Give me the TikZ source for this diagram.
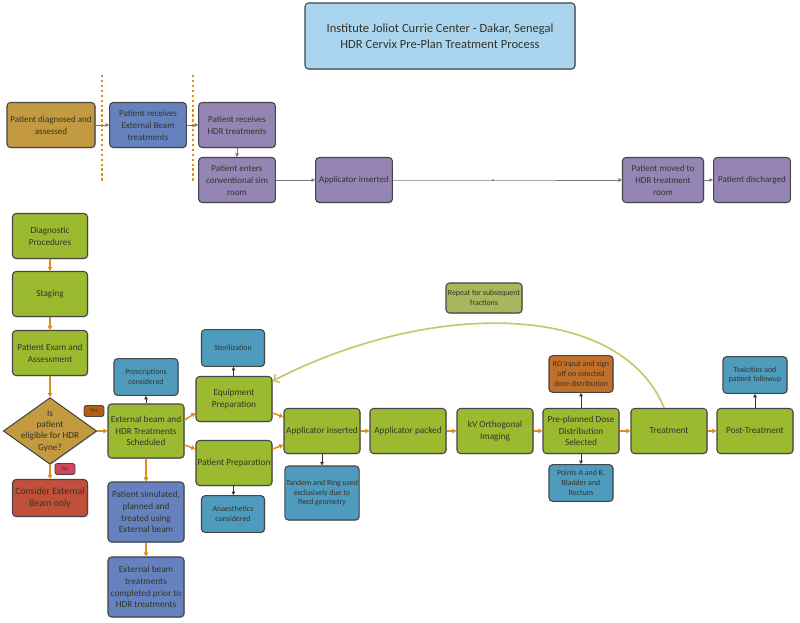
\documentclass[tikz,border=0pt]{standalone}
\usepackage{fontspec}
\setmainfont{Carlito}
\usetikzlibrary{calc, arrows.meta, shapes.geometric, shadows}
\definecolor{Dark}{HTML}{34342A}
\definecolor{Edge}{HTML}{45454A}
\definecolor{Leaf}{HTML}{9CBA30}
\definecolor{Ochre}{HTML}{C49A40}
\definecolor{Beam}{HTML}{6581BE}
\definecolor{Lilac}{HTML}{9585B4}
\definecolor{Sea}{HTML}{4F9BBD}
\definecolor{Rust}{HTML}{C26F2A}
\definecolor{Brick}{HTML}{C0503A}
\definecolor{Sky}{HTML}{A9D5EF}
\definecolor{Olive}{HTML}{A8B75D}
\definecolor{Amber}{HTML}{DB8F1C}
\definecolor{Loop}{HTML}{C8C56A}
\definecolor{Wire}{HTML}{7A7A7A}
\definecolor{YesTag}{HTML}{B35E18}
\definecolor{NoTag}{HTML}{D2475A}
\tikzset{
    basebox/.style={rectangle, rounded corners=3pt, draw=Edge, line width=0.9pt, text=Dark, align=center, inner sep=1pt,
        drop shadow={shadow xshift=0.7pt, shadow yshift=-0.7pt, opacity=0.35}, font=\fontsize{7.9}{10}\selectfont},
    mainbox/.style={basebox, fill=Leaf, minimum width=2.28cm, minimum height=1.35cm},
    topbox/.style={basebox, minimum width=2.3cm, minimum height=1.35cm, font=\fontsize{7.7}{10.3}\selectfont},
    notebox/.style={basebox, fill=Sea, minimum width=1.92cm, minimum height=1.1cm, font=\fontsize{6.7}{8.3}\selectfont},
    tagnode/.style={rectangle, rounded corners=2pt, draw=Edge, line width=0.7pt, text=Dark, inner sep=1pt,
        minimum width=0.6cm, minimum height=0.33cm, font=\fontsize{5}{5}\selectfont},
    flowarrow/.style={-{Triangle[length=3.5pt, width=4pt]}, line width=1.3pt, color=Amber},
    wirearrow/.style={-{Triangle[length=3pt, width=3pt]}, line width=0.6pt, color=Wire},
    notearrow/.style={-{Triangle[length=3pt, width=3pt]}, line width=0.7pt, color=Dark},
    repeatline/.style={-{Straight Barb[length=4pt, width=8pt]}, line width=1.4pt, color=Loop},
}
\begin{document}
\begin{tikzpicture}[x=0.03cm, y=-0.03cm]
    \useasboundingbox (0,0) rectangle (800,623);

    % Title
    \node[basebox, fill=Sky, minimum width=8.1cm, minimum height=1.98cm, font=\fontsize{10.7}{13.5}\selectfont] (title) at (440,36)
        {Institute Joliot Currie Center - Dakar, Senegal\\HDR Cervix Pre-Plan Treatment Process};

    % Patient pathway (top row)
    \draw[Amber, line width=1.6pt, dash pattern=on 2pt off 2.2pt] (102,75) -- (102,183);
    \draw[Amber, line width=1.6pt, dash pattern=on 2pt off 2.2pt] (193,75) -- (193,183);
    \node[topbox, fill=Ochre, minimum width=2.64cm] (diag) at (51,125) {Patient diagnosed and\\assessed};
    \node[topbox, fill=Beam] (ebrt) at (148,125) {Patient receives\\External Beam\\treatments};
    \node[topbox, fill=Lilac] (hdr) at (237,125) {Patient receives\\HDR treatments};
    \node[topbox, fill=Lilac] (sim) at (237,180) {Patient enters\\conventional sim\\room};
    \node[topbox, fill=Lilac] (appltop) at (354,180) {Applicator inserted};
    \node[topbox, fill=Lilac, minimum width=2.43cm] (moved) at (663,180) {Patient moved to\\HDR treatment\\room};
    \node[topbox, fill=Lilac] (disch) at (752,180) {Patient discharged};
    \coordinate (bend) at (493,180);

    \draw[wirearrow] (diag) -- (ebrt);
    \draw[wirearrow] (ebrt) -- (hdr);
    \draw[wirearrow] (hdr) -- (sim);
    \draw[wirearrow] (sim) -- (appltop);
    \draw[wirearrow] (appltop) -- (bend) -- (moved);
    \fill[Wire] (bend) circle (0.9pt);
    \draw[wirearrow] (moved) -- (disch);

    % Work-up and decision
    \node[mainbox, minimum width=2.25cm] (diagproc) at (50,236) {Diagnostic\\Procedures};
    \node[mainbox, minimum width=2.25cm] (staging) at (50,294) {Staging};
    \node[mainbox, minimum width=2.25cm] (exam) at (50,353) {Patient Exam and\\Assessment};
    \node[diamond, draw=Edge, line width=0.9pt, fill=Ochre, minimum width=2.8cm, minimum height=2.0cm,
        drop shadow={shadow xshift=0.7pt, shadow yshift=-0.7pt, opacity=0.35}] (elig) at (50,431) {};
    \node[text=Dark, align=center, font=\fontsize{7.9}{9.8}\selectfont] (eligtext) at (elig) {Is\\patient\\eligible for HDR\\Gyne?};
    \node[tagnode, fill=YesTag] (yes) at (94,411) {Yes};
    \node[tagnode, fill=NoTag] (no) at (65,469) {No};
    \node[mainbox, fill=Brick, minimum width=2.25cm, minimum height=1.11cm, font=\fontsize{8.3}{10.5}\selectfont] (extonly) at (50,498)
        {Consider External\\Beam only};

    % Scheduling
    \node[mainbox, minimum height=1.62cm] (sched) at (146,431) {External beam and\\HDR Treatments\\Scheduled};
    \node[notebox] (presc) at (146,377) {Prescriptions\\considered};
    \node[mainbox, fill=Beam, minimum height=1.8cm] (simext) at (146,512) {Patient simulated,\\planned and\\treated using\\External beam};
    \node[mainbox, fill=Beam, minimum height=1.8cm] (extdone) at (146,587) {External beam\\treatments\\completed prior to\\HDR treatments};

    % Preparation
    \node[mainbox] (equip) at (234,399) {Equipment\\Preparation};
    \node[notebox, minimum width=1.89cm] (steril) at (233,348) {Sterilization};
    \node[mainbox] (patprep) at (234,463) {Patient Preparation};
    \node[notebox, minimum width=1.89cm] (anaes) at (233,514) {Anaesthetics\\considered};

    % HDR fraction
    \node[mainbox] (applic) at (322,431) {Applicator inserted};
    \node[notebox, minimum width=2.19cm, minimum height=1.62cm] (tandem) at (322,493) {Tandem and Ring used\\exclusively due to\\fixed geometry};
    \node[mainbox] (packed) at (408,431) {Applicator packed};
    \node[mainbox] (kvimg) at (495,431) {kV Orthogonal\\Imaging};
    \node[mainbox] (preplan) at (581,431) {Pre-planned Dose\\Distribution\\Selected};
    \node[notebox, fill=Rust] (roinput) at (581,374) {RO input and sign\\off on selected\\dose distribution};
    \node[notebox] (points) at (581,483) {Points A and B,\\Bladder and\\Rectum};
    \node[mainbox] (treat) at (669,431) {Treatment};
    \node[mainbox] (post) at (755,431) {Post-Treatment};
    \node[notebox] (toxic) at (755,375) {Toxicities and\\patient followup};
    \node[notebox, fill=Olive, minimum width=2.28cm, minimum height=0.9cm] (repeat) at (484,298) {Repeat for subsequent\\fractions};

    % Main flow
    \draw[flowarrow] (diagproc) -- (staging);
    \draw[flowarrow] (staging) -- (exam);
    \draw[flowarrow] (exam) -- (elig);
    \draw[flowarrow] (elig.east) -- (sched.west);
    \draw[flowarrow] (elig.south) -- (extonly.north);
    \draw[flowarrow] (sched.16) -- (equip.200);
    \draw[flowarrow] (sched.-20) -- (patprep.160);
    \draw[flowarrow] (sched) -- (simext);
    \draw[flowarrow] (simext) -- (extdone);
    \draw[flowarrow] (equip.-20) -- (applic.160);
    \draw[flowarrow] (patprep.20) -- (applic.200);
    \draw[flowarrow] (applic) -- (packed);
    \draw[flowarrow] (packed) -- (kvimg);
    \draw[flowarrow] (kvimg) -- (preplan);
    \draw[flowarrow] (preplan) -- (treat);
    \draw[flowarrow] (treat) -- (post);

    % Side notes
    \draw[notearrow] (sched) -- (presc);
    \draw[notearrow] (equip) -- (steril);
    \draw[notearrow] (patprep) -- (anaes);
    \draw[notearrow] (applic) -- (tandem);
    \draw[notearrow] (preplan) -- (roinput);
    \draw[notearrow] (preplan) -- (points);
    \draw[notearrow] (post) -- (toxic);

    % Subsequent fractions
    \draw[repeatline] (treat.102) .. controls (620,300) and (430,300) .. (equip.25);
\end{tikzpicture}
\end{document}
